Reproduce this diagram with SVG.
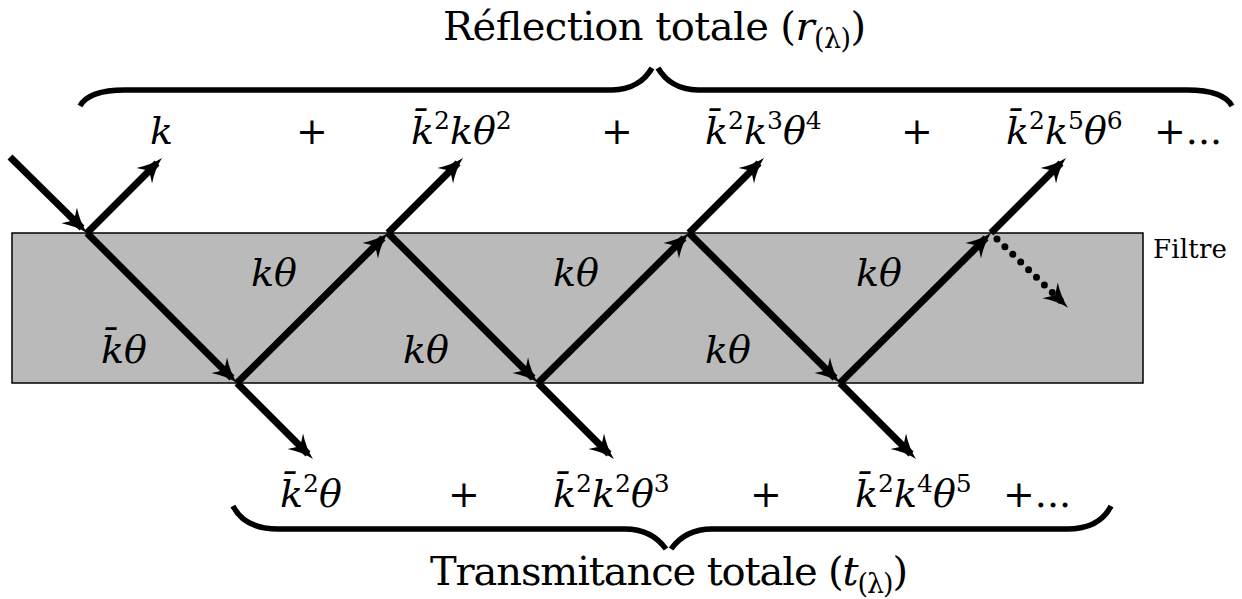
<svg xmlns="http://www.w3.org/2000/svg" width="1242" height="599" viewBox="0 0 1242 599">
<style>
.m{font-size:38px;font-style:italic;font-family:'DejaVu Serif',serif}
.op{font-size:38px;font-family:'DejaVu Serif',serif}
.sup{font-size:25px;font-style:normal}
.sub{font-size:27px;font-style:normal}
.title{font-size:40px;font-family:'DejaVu Serif',serif}
.lbl{font-size:26px;font-family:'DejaVu Serif',serif}
.ray{stroke:#000;stroke-width:7;fill:none;stroke-linecap:butt;marker-end:url(#ah)}
.dots{stroke:#000;stroke-width:7;fill:none;stroke-linecap:round;stroke-dasharray:0 11;marker-end:url(#ah)}
.brace{stroke:#000;stroke-width:5.5;fill:none;stroke-linecap:butt}
</style>
<defs>
<marker id="ah" markerUnits="userSpaceOnUse" markerWidth="40" markerHeight="40" viewBox="-20 -20 40 40" refX="0" refY="0" orient="auto" overflow="visible">
<path d="M7,0 Q-6,-3 -18,-11 L-11,0 L-18,11 Q-6,3 7,0 Z" fill="#000"/>
</marker>
</defs>

<g id="filtre">
<rect x="12" y="233" width="1131" height="150" fill="#bababa" stroke="#000" stroke-width="1.5"/>
<text class="lbl" x="1153" y="258" textLength="74">Filtre</text>
</g>

<g id="connectors">
<path class="ray" d="M10,157 L82,228"/>
<path class="ray" d="M87,233 L157,163"/>
<path class="ray" d="M87,233 L232,378"/>
<path class="ray" d="M237,383 L383,238"/>
<path class="ray" d="M237,383 L308,454"/>
<path class="ray" d="M388,233 L458,163"/>
<path class="ray" d="M388,233 L533,378"/>
<path class="ray" d="M538,383 L684,238"/>
<path class="ray" d="M538,383 L609,454"/>
<path class="ray" d="M689,233 L759,163"/>
<path class="ray" d="M689,233 L835,378"/>
<path class="ray" d="M840,383 L986,238"/>
<path class="ray" d="M840,383 L911,454"/>
<path class="ray" d="M991,233 L1061,163"/>
<path class="dots" d="M997,239 L1063,303"/>
</g>

<g id="inside-labels">
<text class="m" x="101" y="363">k̄θ</text>
<text class="m" x="251" y="286">kθ</text>
<text class="m" x="403" y="363">kθ</text>
<text class="m" x="553" y="286">kθ</text>
<text class="m" x="705" y="363">kθ</text>
<text class="m" x="856" y="286">kθ</text>
</g>

<g id="reflexion">
<path class="brace" d="M80,106 C86,95 100,90 125,90 L612,90 C632,90 645,80 652,68"/>
<path class="brace" d="M658,68 C665,80 678,90 698,90 L1187,90 C1212,90 1226,95 1232,106"/>
<text class="title" x="443" y="40" textLength="423">Réflection totale (<tspan font-style="italic">r</tspan><tspan class="sub" dy="8">(λ)</tspan><tspan dy="-8">)</tspan></text>
<text class="m" x="150" y="144">k</text>
<text class="op" x="296" y="144">+</text>
<text class="m" x="411" y="144">k̄<tspan class="sup" dy="-15">2</tspan><tspan dy="15">kθ</tspan><tspan class="sup" dy="-15">2</tspan></text>
<text class="op" x="601" y="144">+</text>
<text class="m" x="705" y="144">k̄<tspan class="sup" dy="-15">2</tspan><tspan dy="15">k</tspan><tspan class="sup" dy="-15">3</tspan><tspan dy="15">θ</tspan><tspan class="sup" dy="-15">4</tspan></text>
<text class="op" x="901" y="144">+</text>
<text class="m" x="1006" y="144">k̄<tspan class="sup" dy="-15">2</tspan><tspan dy="15">k</tspan><tspan class="sup" dy="-15">5</tspan><tspan dy="15">θ</tspan><tspan class="sup" dy="-15">6</tspan></text>
<text class="op" x="1154" y="144">+...</text>
</g>

<g id="transmitance">
<path class="brace" d="M233,506 C240,520 254,529 278,529 L625,529 C645,529 658,538 666,549"/>
<path class="brace" d="M671,549 C679,538 692,529 712,529 L1067,529 C1090,529 1104,520 1111,506"/>
<text class="m" x="280" y="507">k̄<tspan class="sup" dy="-15">2</tspan><tspan dy="15">θ</tspan></text>
<text class="op" x="448" y="507">+</text>
<text class="m" x="553" y="507">k̄<tspan class="sup" dy="-15">2</tspan><tspan dy="15">k</tspan><tspan class="sup" dy="-15">2</tspan><tspan dy="15">θ</tspan><tspan class="sup" dy="-15">3</tspan></text>
<text class="op" x="750" y="507">+</text>
<text class="m" x="855" y="507">k̄<tspan class="sup" dy="-15">2</tspan><tspan dy="15">k</tspan><tspan class="sup" dy="-15">4</tspan><tspan dy="15">θ</tspan><tspan class="sup" dy="-15">5</tspan></text>
<text class="op" x="1003" y="507">+...</text>
<text class="title" x="430" y="585" textLength="478">Transmitance totale (<tspan font-style="italic">t</tspan><tspan class="sub" dy="8">(λ)</tspan><tspan dy="-8">)</tspan></text>
</g>
</svg>
